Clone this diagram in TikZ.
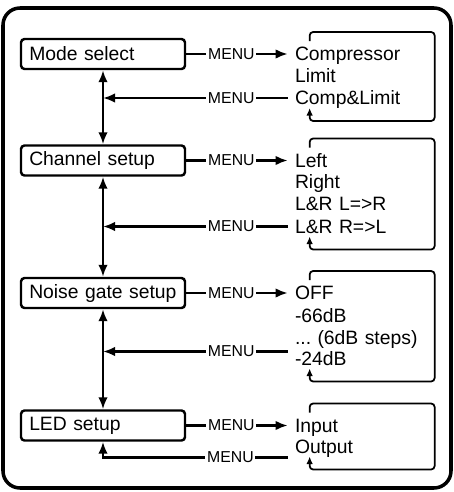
\documentclass[tikz,border=0pt]{standalone}
\usepackage{fontspec}
\setmainfont{Liberation Sans}
\usetikzlibrary{arrows.meta,positioning}
\tikzstyle{block} = [rectangle, draw, rounded corners=2pt, line width=1.4pt,
    text width=2.95cm, inner xsep=0.165cm, minimum height=0.6cm, align=left,
    font=\fontsize{11}{13}\selectfont]
\tikzstyle{item} = [text width=2.6cm, align=left, inner sep=0pt,
    text height=7.9pt, text depth=0pt, font=\fontsize{11}{13}\selectfont]
\tikzstyle{menu} = [fill=white, inner xsep=1pt, inner ysep=0pt, font=\fontsize{9}{11}\selectfont]
\tikzstyle{line} = [draw, line width=1.3pt, -{Latex[length=2.4mm,width=1.9mm]}]
\tikzstyle{dline} = [draw, line width=1.3pt, {Latex[length=2.4mm,width=1.9mm]}-{Latex[length=2.4mm,width=1.9mm]}]
\tikzstyle{loopline} = [draw, line width=1pt, rounded corners=2pt, -{Latex[length=1.5mm,width=1.3mm]}]
\tikzstyle{frame} = [draw, line width=2pt, rounded corners=0.34cm]

\begin{document}
\begin{tikzpicture}
    \useasboundingbox (0,0) rectangle (9.06,-9.84);
    \path[frame] (0.06,-0.16) rectangle (9.02,-9.76);
    % Place nodes
    \node[block] (mode) at (2.06,-1.08) {Mode select};
    \node[block, below of=mode, node distance=2.13cm] (chan) {Channel setup};
    \node[block, below of=chan, node distance=2.65cm] (gate) {Noise gate setup};
    \node[block, below of=gate, node distance=2.65cm] (led) {LED setup};
    % option lists
    \node[item, right of=mode, node distance=5.14cm] (m1) {Compressor};
    \node[item, below of=m1, node distance=0.44cm] (m2) {Limit};
    \node[item, below of=m2, node distance=0.44cm] (m3) {Comp\&Limit};
    \node[item, right of=chan, node distance=5.14cm] (c1) {Left};
    \node[item, below of=c1, node distance=0.42cm] (c2) {Right};
    \node[item, below of=c2, node distance=0.44cm] (c3) {L\&R L=>R};
    \node[item, below of=c3, node distance=0.46cm] (c4) {L\&R R=>L};
    \node[item, right of=gate, node distance=5.14cm] (g1) {OFF};
    \node[item, below of=g1, node distance=0.45cm] (g2) {-66dB};
    \node[item, below of=g2, node distance=0.44cm] (g3) {...~(6dB steps)};
    \node[item, below of=g3, node distance=0.42cm] (g4) {-24dB};
    \node[item, right of=led, node distance=5.14cm] (l1) {Input};
    \node[item, below of=l1, node distance=0.42cm] (l2) {Output};
    \coordinate (gret) at ([xshift=-0.14cm,yshift=0.14cm]g4.west);
    \coordinate (lret) at ([xshift=-0.14cm,yshift=-0.22cm]l2.west);
    % Draw edges
    \path[dline] (mode) -- (chan);
    \path[dline] (chan) -- (gate);
    \path[dline] (gate) -- (led);
    \path[line] (mode.east) -- node[menu, pos=0.445] {MENU} ([xshift=-0.14cm]m1.west);
    \path[line] (chan.east) -- node[menu, pos=0.445] {MENU} ([xshift=-0.14cm]c1.west);
    \path[line] (gate.east) -- node[menu, pos=0.445] {MENU} ([xshift=-0.14cm]g1.west);
    \path[line] (led.east) -- node[menu, pos=0.445] {MENU} ([xshift=-0.14cm]l1.west);
    \path[line] ([xshift=-0.14cm]m3.west) -- node[menu, pos=0.306] {MENU} (mode.center |- m3.west);
    \path[line] ([xshift=-0.14cm]c4.west) -- node[menu, pos=0.306] {MENU} (chan.center |- c4.west);
    \path[line] (gret) -- node[menu, pos=0.306] {MENU} (gate.center |- gret);
    \path[line] (lret) -| node[menu, pos=0.155] {MENU} (led.south);
    % loops back to the first entry
    \foreach \first/\last in {m1/m3, c1/c4, g1/g4, l1/l2}
        \path[loopline] ([xshift=0.3cm,yshift=0.26cm]\first.west) |- ([xshift=2.8cm,yshift=0.44cm]\first.west)
            |- ([xshift=0.3cm,yshift=-0.46cm]\last.west) -- ([xshift=0.3cm,yshift=-0.2cm]\last.west);
\end{tikzpicture}
\end{document}
